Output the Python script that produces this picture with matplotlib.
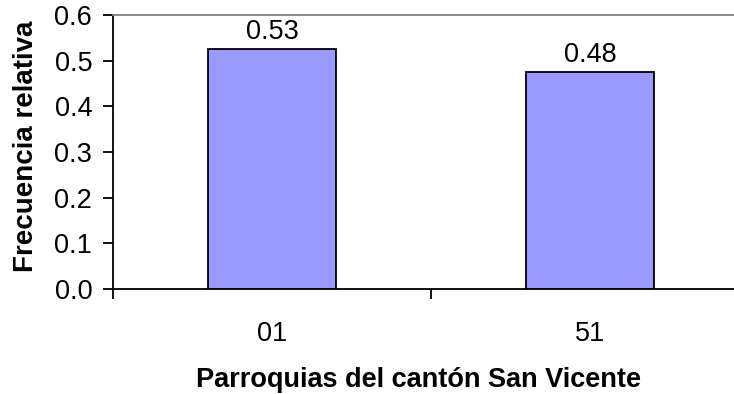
import matplotlib
matplotlib.use("Agg")
import matplotlib.pyplot as plt
import numpy as np

plt.rcParams['font.family'] = ['Liberation Sans', 'DejaVu Sans']

parroquias = ['01', '51']
frecuencia = [0.525, 0.475]
etiquetas = ['0.53', '0.48']

fig = plt.figure(figsize=(7.34, 3.94), dpi=100)
ax = fig.add_axes([113 / 734, 1 - 289 / 394, (749 - 113) / 734, (289 - 15) / 394])

x = np.arange(len(parroquias))
bars = ax.bar(x, frecuencia, width=0.4, color='#9999FF', edgecolor='black', linewidth=1.3)
for b, t in zip(bars, etiquetas):
    ax.text(b.get_x() + b.get_width() / 2, b.get_height() + 0.01, t,
            ha='center', va='bottom', fontsize=19.5)

ax.set_xlim(-0.5, 1.5)
ax.set_ylim(0, 0.6)
ax.set_yticks(np.arange(0, 0.61, 0.1))
ax.set_yticklabels(['%.1f' % v for v in np.arange(0, 0.61, 0.1)], fontsize=19.5)
ax.tick_params(axis='y', direction='out', length=7, width=1.3, pad=8)

ax.set_xticks(x)
ax.set_xticklabels(parroquias, fontsize=19.5)
ax.tick_params(axis='x', which='major', length=0, pad=23)
ax.set_xticks([-0.5, 0.5, 1.5], minor=True)
ax.tick_params(axis='x', which='minor', direction='out', length=7, width=1.3)

ax.spines['left'].set_linewidth(1.3)
ax.spines['bottom'].set_linewidth(1.3)
ax.spines['top'].set_color('#808080')
ax.spines['top'].set_linewidth(1.3)
ax.spines['right'].set_visible(False)

fig.text(26 / 734, 1 - 146 / 394, 'Frecuencia relativa', rotation=90, ha='center', va='center',
         fontsize=20, fontweight='bold')
fig.text(418 / 734, 1 - 380 / 394, 'Parroquias del cantón San Vicente', ha='center', va='center',
         fontsize=19.5, fontweight='bold')

fig.savefig('out.png', dpi=100)
